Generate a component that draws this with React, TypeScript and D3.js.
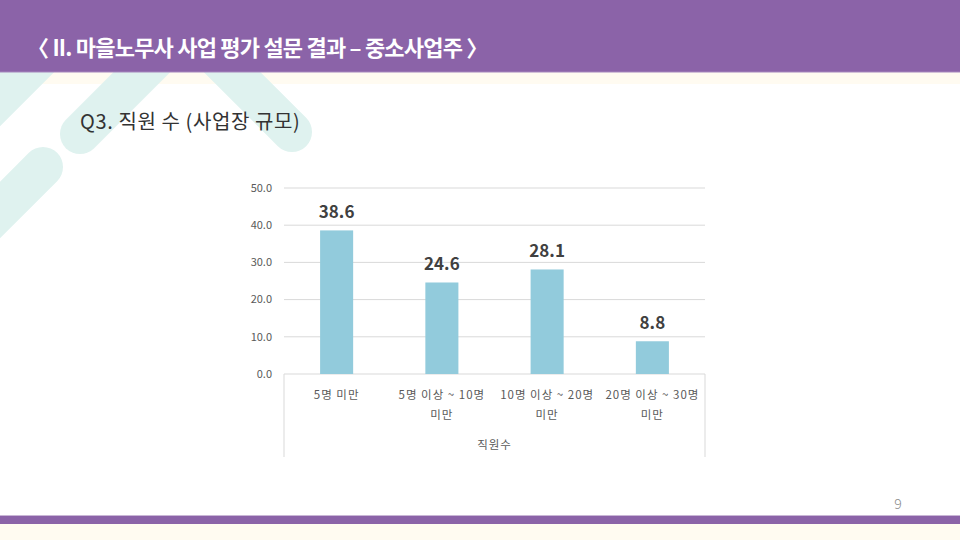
import React from "react";
import * as d3 from "d3";

const categoriesLine1 = ["5명 미만", "5명 이상 ~ 10명", "10명 이상 ~ 20명", "20명 이상 ~ 30명"];
const categoriesLine2 = ["", "미만", "미만", "미만"];
const values = [38.6, 24.6, 28.1, 8.8];
const yTicks = [0, 10, 20, 30, 40, 50];
const axisTitle = "직원수";
const headerTitle = "〈 II. 마을노무사 사업 평가 설문 결과 – 중소사업주 〉";
const questionTitle = "Q3.  직원 수 (사업장 규모)";
const pageNumber = "9";

const W = 960;
const H = 540;
const plotLeft = 284;
const plotRight = 705;
const plotTop = 188;
const plotBottom = 374;
const KR = "'Noto Sans CJK KR', 'Noto Sans', sans-serif";

export default function App() {
  const x = d3
    .scaleBand<number>()
    .domain(d3.range(categoriesLine1.length))
    .range([plotLeft, plotRight])
    .paddingInner(0.686)
    .paddingOuter(0.343);
  const y = d3.scaleLinear().domain([0, 50]).range([plotBottom, plotTop]);
  const decoColor = "#dff2ef";
  const stripes = [
    [130, -32, -40, 138],
    [80, 134, 200, 14],
    [292, 132, 170, 10],
    [43, 167, -100, 310],
  ];
  return (
    <div style={{ position: "fixed", left: 0, top: 0, width: W, height: H }}>
      <svg width={W} height={H} style={{ display: "block" }}>
        <rect x={0} y={0} width={W} height={H} fill="#ffffff" />
        <rect x={0} y={72} width={W} height={12} fill="#fffbf1" />
        <rect x={0} y={524} width={W} height={16} fill="#fffbf1" />
        {stripes.map((s, i) => (
          <line
            key={i}
            x1={s[0]}
            y1={s[1]}
            x2={s[2]}
            y2={s[3]}
            stroke={decoColor}
            strokeWidth={40}
            strokeLinecap="round"
          />
        ))}
        <rect x={0} y={0} width={W} height={72} fill="#8b63a8" />
        <line x1={0} x2={W} y1={72} y2={72} stroke="#a586bd" strokeWidth={1} />
        <text
          x={27}
          y={56}
          fill="#ffffff"
          fontFamily={KR}
          fontWeight={700}
          fontSize={22}
          letterSpacing={-0.8}
        >
          {headerTitle}
        </text>
        <text
          x={80}
          y={129}
          fill="#333333"
          fontFamily={KR}
          fontSize={20}
          letterSpacing={0.6}
        >
          {questionTitle}
        </text>

        {yTicks.map((t) => (
          <g key={t}>
            <line
              x1={plotLeft}
              x2={plotRight}
              y1={y(t)}
              y2={y(t)}
              stroke="#d9d9d9"
              strokeWidth={1}
            />
            <text
              x={272}
              y={y(t)}
              dy="0.35em"
              textAnchor="end"
              fill="#595959"
              fontFamily={KR}
              fontSize={11}
            >
              {d3.format(".1f")(t)}
            </text>
          </g>
        ))}
        <line x1={plotLeft} x2={plotLeft} y1={plotBottom} y2={457} stroke="#d9d9d9" />
        <line x1={plotRight} x2={plotRight} y1={plotBottom} y2={457} stroke="#d9d9d9" />

        {values.map((v, i) => {
          const bx = x(i) as number;
          const cx = bx + x.bandwidth() / 2;
          return (
            <g key={i}>
              <rect
                x={bx}
                y={y(v)}
                width={x.bandwidth()}
                height={plotBottom - y(v)}
                fill="#92cbdc"
              />
              <text
                x={cx}
                y={y(v) - 12}
                textAnchor="middle"
                fill="#404040"
                fontFamily={KR}
                fontWeight={700}
                fontSize={17}
              >
                {d3.format(".1f")(v)}
              </text>
              <text
                x={cx}
                y={395}
                dy="0.35em"
                textAnchor="middle"
                fill="#595959"
                fontFamily={KR}
                fontSize={11.5}
                letterSpacing={1}
              >
                {categoriesLine1[i]}
              </text>
              <text
                x={cx}
                y={415}
                dy="0.35em"
                textAnchor="middle"
                fill="#595959"
                fontFamily={KR}
                fontSize={11.5}
                letterSpacing={1}
              >
                {categoriesLine2[i]}
              </text>
            </g>
          );
        })}
        <text
          x={(plotLeft + plotRight) / 2}
          y={445}
          dy="0.35em"
          textAnchor="middle"
          fill="#595959"
          fontFamily={KR}
          fontSize={11.5}
          letterSpacing={1}
        >
          {axisTitle}
        </text>

        <text
          x={898}
          y={504}
          dy="0.35em"
          textAnchor="middle"
          fill="#8c8c8c"
          fontFamily={KR}
          fontWeight={300}
          fontSize={14}
        >
          {pageNumber}
        </text>
        <rect x={0} y={515} width={W} height={1} fill="#c9b6d6" />
        <rect x={0} y={516} width={W} height={8} fill="#8b63a8" />
      </svg>
    </div>
  );
}
